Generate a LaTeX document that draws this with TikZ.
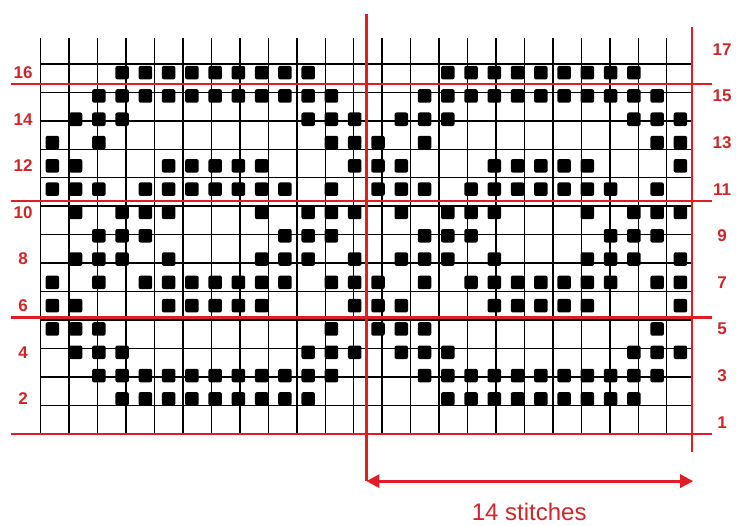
\documentclass[tikz,border=0pt]{standalone}
\usepackage{fontspec}
\setmainfont{Liberation Sans}
\usetikzlibrary{arrows.meta}
\definecolor{chartred}{RGB}{224,28,36}
\definecolor{labelred}{RGB}{205,38,42}

\begin{document}
\begin{tikzpicture}[
    x=23.26pt, y=23.3pt,
    gridline/.style={draw=black, line width=1.5pt},
    stitch/.style={rectangle, fill=black, rounded corners=2pt, minimum size=13.5pt, inner sep=0pt},
    repeatline/.style={draw=chartred, line width=2.4pt},
    rownum/.style={text=labelred, font=\fontsize{17}{17}\selectfont\bfseries, inner sep=0pt},
    span/.style={{Triangle[length=13pt,width=13pt]}-{Triangle[length=13pt,width=13pt]}, draw=chartred, line width=3pt},
    spanlabel/.style={text=labelred, font=\fontsize{24}{24}\selectfont, inner sep=0pt}
]
\useasboundingbox (-1.75,-3.914) rectangle (29.89,18.618);

% Chart grid
\draw[gridline] (0,0) grid (28,17);

% Stitches, two repeats of 14
\foreach \r/\cl in {2/{4,...,12}, 3/{3,...,13}, 4/{2,3,4,12,13,14}, 5/{1,2,3,13},
    6/{1,2,6,7,8,9,10,14}, 7/{1,3,5,6,7,8,9,10,11,13,14}, 8/{2,3,4,6,10,11,12,14},
    9/{3,4,5,11,12,13}, 10/{2,4,5,6,10,12,13,14}, 11/{1,2,3,5,6,7,8,9,10,11,13},
    12/{1,2,6,7,8,9,10,14}, 13/{1,3,13,14}, 14/{2,3,4,12,13,14},
    15/{3,...,13}, 16/{4,...,12}}
  \foreach \c in \cl
    \foreach \k in {0,1}
      \node[stitch] (s-\r-\c-\k) at ({\c-0.5+14*\k},{\r-0.5}) {};

% Red guide lines
\foreach \h in {0,5,10,15}
  \draw[repeatline] (-1.29,\h) -- (28.85,\h);
\coordinate (repL-top) at (14,18.02);
\coordinate (repL-bot) at (14,-2.03);
\coordinate (repR-top) at (28,17.46);
\coordinate (repR-bot) at (28,-0.78);
\draw[repeatline] (repL-top) -- (repL-bot);
\draw[repeatline] (repR-top) -- (repR-bot);

% Row numbers
\foreach \r in {2,4,...,16}
  \node[rownum] (row-\r) at (-0.76,{\r-0.5}) {\r};
\foreach \r in {1,3,...,17}
  \node[rownum] (row-\r) at (29.29,{\r-0.5}) {\r};

% Repeat width
\coordinate (arrowL) at (14,-2.03);
\coordinate (arrowR) at (28.05,-2.03);
\draw[span] (arrowL) -- (arrowR);
\node[spanlabel] (stitches) at (21,-3.36) {14 stitches};

\end{tikzpicture}
\end{document}
